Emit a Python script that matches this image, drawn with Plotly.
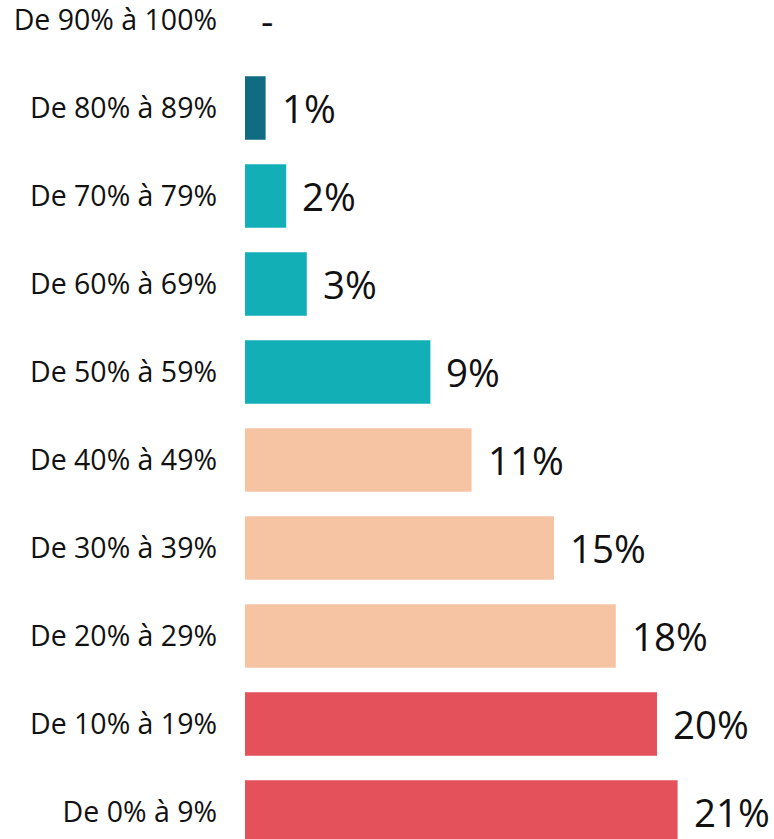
import plotly.graph_objects as go

categories = ["De 90% à 100%", "De 80% à 89%", "De 70% à 79%", "De 60% à 69%",
              "De 50% à 59%", "De 40% à 49%", "De 30% à 39%", "De 20% à 29%",
              "De 10% à 19%", "De 0% à 9%"]
values = [0, 1, 2, 3, 9, 11, 15, 18, 20, 21]
value_labels = ["-", "1%", "2%", "3%", "9%", "11%", "15%", "18%", "20%", "21%"]
colors = ["#0f6c83", "#0f6c83", "#13afb7", "#13afb7", "#13afb7",
          "#f7c4a3", "#f7c4a3", "#f7c4a3", "#e5515a", "#e5515a"]

FONT = "Open Sans"

fig = go.Figure(go.Bar(
    x=values, y=categories, orientation="h",
    marker=dict(color=colors, line=dict(width=0)),
    width=0.72, hoverinfo="skip",
))

for cat, v, lab in zip(categories, values, value_labels):
    fig.add_annotation(x=v, y=cat, text=lab, showarrow=False,
                       xanchor="left", yanchor="middle", xshift=15,
                       borderpad=0,
                       font=dict(family=FONT, size=38.5, color="#111111"))

fig.update_layout(
    width=774, height=839,
    margin=dict(l=245, r=0, t=0, b=0),
    paper_bgcolor="white", plot_bgcolor="white",
    showlegend=False,
    xaxis=dict(range=[0, 25.68], visible=False, fixedrange=True),
    yaxis=dict(type="category", categoryorder="array", categoryarray=categories,
               range=[9.307, -0.227], showgrid=False, zeroline=False, showline=False,
               ticks="", ticklabelstandoff=27,
               tickfont=dict(family=FONT, size=28.5, color="#111111")),
)

fig.write_html("out.html", config={"displayModeBar": False},
               post_script="document.body.style.margin='0';document.body.style.overflow='hidden';")
